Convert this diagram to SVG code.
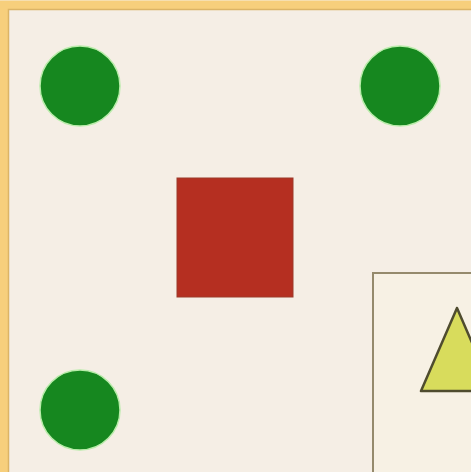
<svg xmlns="http://www.w3.org/2000/svg" width="471" height="472" viewBox="0 0 471 472">
<style>
.dot{fill:#16871f;stroke:#b9ecaa;stroke-width:1.5}
</style>
<rect x="0" y="0" width="471" height="472" fill="#f5eee5"/>
<g id="frame">
<rect x="4" y="5" width="490" height="490" fill="none" stroke="#f7cf7c" stroke-width="9"/>
<rect x="8.5" y="9.5" width="490" height="490" fill="none" stroke="#dcb466" stroke-width="1.5"/>
</g>
<g id="circle-tl"><circle class="dot" cx="80" cy="86" r="40"/></g>
<g id="circle-tr"><circle class="dot" cx="400" cy="86" r="40"/></g>
<g id="circle-bl"><circle class="dot" cx="80" cy="410" r="40"/></g>
<g id="square"><rect x="177" y="178" width="116" height="119" fill="#b52f21" stroke="#9c3a2a" stroke-width="1"/></g>
<g id="panel">
<rect x="373" y="273" width="140" height="240" fill="#f7f1e4" stroke="#958a6c" stroke-width="2"/>
<polygon points="457,308 421,391 493,391" fill="#d8dc5c" stroke="#4f4c2e" stroke-width="2.5" stroke-linejoin="round"/>
</g>
<g id="connectors"/>
</svg>
